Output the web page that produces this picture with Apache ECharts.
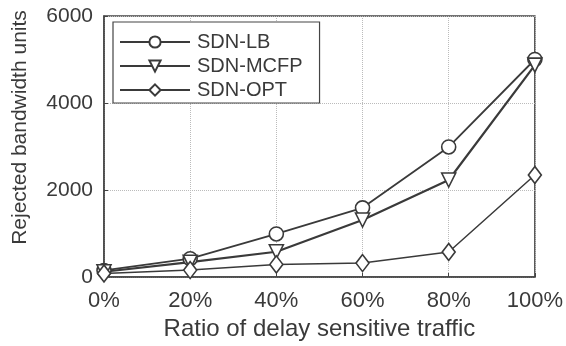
<!DOCTYPE html>
<html>
<head>
<meta charset="utf-8">
<script src="https://cdn.jsdelivr.net/npm/echarts@6/dist/echarts.min.js"></script>
<style>html,body{margin:0;padding:0;background:#fff;}#c{width:566px;height:346px;}</style>
</head>
<body>
<div id="c"></div>
<script>
const categories = ['0%', '20%', '40%', '60%', '80%', '100%'];
const sdnLB = [150, 420, 990, 1590, 2990, 5000];
const sdnMCFP = [120, 340, 580, 1310, 2230, 4870];
const sdnOPT = [80, 160, 290, 320, 575, 2345];
const yTicks = [0, 2000, 4000, 6000];

const FONT = 'Liberation Sans';
const C = '#3a3a3a';
const chart = echarts.init(document.getElementById('c'), null, {renderer: 'canvas'});
function mk(name, data, symbol, rot, lw) {
  return {
    name: name, type: 'line', data: data,
    symbol: symbol, symbolSize: symbol === 'diamond' ? [13, 17] : 14, symbolRotate: rot,
    itemStyle: {color: '#fff', borderColor: C, borderWidth: 1.6},
    lineStyle: {color: C, width: lw},
    emphasis: {disabled: true}, animation: false
  };
}
chart.setOption({
  animation: false,
  backgroundColor: '#fff',
  grid: {left: 104, right: 29, top: 16, bottom: 69, show: true, borderColor: '#444', borderWidth: 1.5},
  legend: {
    orient: 'vertical', left: 113, top: 22,
    itemWidth: 70, itemHeight: 14, itemGap: 4,
    padding: [10, 17, 3, 6],
    borderColor: '#444', borderWidth: 1.2, backgroundColor: '#fff',
    textStyle: {fontFamily: FONT, fontSize: 20, color: C, padding: [0, 0, 0, 2]},
    data: ['SDN-LB', 'SDN-MCFP', 'SDN-OPT']
  },
  xAxis: {
    type: 'category', data: categories, boundaryGap: false,
    name: 'Ratio of delay sensitive traffic', nameLocation: 'middle', nameGap: 37,
    nameTextStyle: {fontFamily: FONT, fontSize: 24, color: C},
    axisLine: {lineStyle: {color: '#444', width: 1.5}},
    axisTick: {inside: true, length: 4, lineStyle: {color: '#444'}},
    axisLabel: {fontFamily: FONT, fontSize: 22, color: C, margin: 13},
    splitLine: {show: true, lineStyle: {color: '#bbb', type: 'dotted', width: 1}}
  },
  yAxis: {
    type: 'value', min: yTicks[0], max: yTicks[yTicks.length - 1], interval: 2000,
    name: 'Rejected bandwidth units', nameLocation: 'middle', nameGap: 73,
    nameTextStyle: {fontFamily: FONT, fontSize: 21, color: C, padding: [0, 0, 0, 38]},
    axisLine: {show: true, lineStyle: {color: '#444', width: 1.5}},
    axisTick: {show: true, inside: true, length: 4, lineStyle: {color: '#444'}},
    axisLabel: {fontFamily: FONT, fontSize: 21, color: C, margin: 11, formatter: function (v) { return String(v); }},
    splitLine: {show: true, lineStyle: {color: '#bbb', type: 'dotted', width: 1}}
  },
  series: [
    mk('SDN-LB', sdnLB, 'circle', 0, 1.8),
    mk('SDN-MCFP', sdnMCFP, 'triangle', 180, 2.2),
    mk('SDN-OPT', sdnOPT, 'diamond', 0, 1.5)
  ]
});
</script>
</body>
</html>
